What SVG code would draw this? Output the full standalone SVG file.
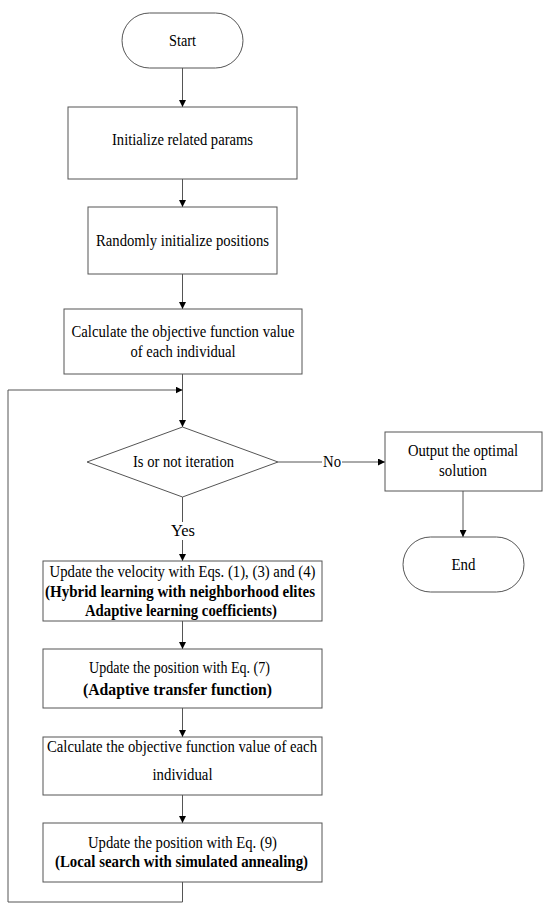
<svg xmlns="http://www.w3.org/2000/svg" width="550" height="910" viewBox="0 0 550 910" font-family="'Liberation Serif', 'Times New Roman', serif">
<defs>
<marker id="arr" viewBox="0 0 10 10" refX="10" refY="5" markerWidth="7" markerHeight="7" markerUnits="userSpaceOnUse" orient="auto">
<path d="M0,0 L10,5 L0,10 z" fill="#000"/>
</marker>
<style>
.n{fill:#fff;stroke:#555;stroke-width:1}
.t{font-family:'Liberation Serif','Times New Roman',serif;font-size:16.5px;fill:#000;text-anchor:middle}
.b{font-weight:bold}
.c{fill:none;stroke:#555;stroke-width:1}
</style>
</defs>
<rect width="550" height="910" fill="#fff"/>
<g id="connectors">
<line class="c" x1="182.5" y1="68" x2="182.5" y2="107" marker-end="url(#arr)"/>
<line class="c" x1="182.5" y1="179" x2="182.5" y2="207" marker-end="url(#arr)"/>
<line class="c" x1="182.5" y1="274" x2="182.5" y2="309" marker-end="url(#arr)"/>
<line class="c" x1="182.5" y1="374" x2="182.5" y2="427" marker-end="url(#arr)"/>
<line class="c" x1="182.5" y1="497" x2="182.5" y2="522"/>
<line class="c" x1="182.5" y1="540" x2="182.5" y2="561" marker-end="url(#arr)"/>
<line class="c" x1="278" y1="462" x2="322" y2="462"/>
<line class="c" x1="342" y1="462" x2="385" y2="462" marker-end="url(#arr)"/>
<line class="c" x1="463" y1="491" x2="463" y2="537" marker-end="url(#arr)"/>
<line class="c" x1="182.5" y1="621" x2="182.5" y2="649" marker-end="url(#arr)"/>
<line class="c" x1="182.5" y1="708" x2="182.5" y2="737" marker-end="url(#arr)"/>
<line class="c" x1="182.5" y1="795" x2="182.5" y2="823" marker-end="url(#arr)"/>
<polyline class="c" points="182.5,882 182.5,902 8,902 8,390 182.5,390" marker-end="url(#arr)"/>
<text class="t" x="332" y="467" textLength="18" lengthAdjust="spacingAndGlyphs">No</text>
<text class="t" x="183" y="536" textLength="24" lengthAdjust="spacingAndGlyphs">Yes</text>
</g>
<g id="start">
<rect class="n" x="122" y="13" width="121" height="55" rx="27.5" ry="27.5"/>
<text class="t" x="182.5" y="46" textLength="27" lengthAdjust="spacingAndGlyphs">Start</text>
</g>
<g id="init-params">
<rect class="n" x="68" y="107" width="229" height="72"/>
<text class="t" x="182.5" y="145" textLength="141" lengthAdjust="spacingAndGlyphs">Initialize related params</text>
</g>
<g id="init-positions">
<rect class="n" x="88" y="207" width="189" height="67"/>
<text class="t" x="182.5" y="246" textLength="173" lengthAdjust="spacingAndGlyphs">Randomly initialize positions</text>
</g>
<g id="calc-fitness-1">
<rect class="n" x="64" y="309" width="238" height="65"/>
<text class="t" x="183" y="337" textLength="223" lengthAdjust="spacingAndGlyphs">Calculate the objective function value</text>
<text class="t" x="183" y="357" textLength="105" lengthAdjust="spacingAndGlyphs">of each individual</text>
</g>
<g id="decision">
<polygon class="n" points="182.5,427 278,462 182.5,497 87,462"/>
<text class="t" x="183.5" y="467" textLength="101" lengthAdjust="spacingAndGlyphs">Is or not iteration</text>
</g>
<g id="output">
<rect class="n" x="385" y="432" width="157" height="59"/>
<text class="t" x="463" y="456" textLength="110" lengthAdjust="spacingAndGlyphs">Output the optimal</text>
<text class="t" x="463" y="476" textLength="48" lengthAdjust="spacingAndGlyphs">solution</text>
</g>
<g id="end">
<rect class="n" x="403" y="537" width="121" height="55" rx="27.5" ry="27.5"/>
<text class="t" x="463.5" y="570" textLength="24" lengthAdjust="spacingAndGlyphs">End</text>
</g>
<g id="update-velocity">
<rect class="n" x="43" y="561" width="279" height="60"/>
<text class="t" x="182.5" y="577" textLength="266" lengthAdjust="spacingAndGlyphs">Update the velocity with Eqs. (1), (3) and (4)</text>
<text class="t b" x="180" y="597" textLength="270" lengthAdjust="spacingAndGlyphs">(Hybrid learning with neighborhood elites</text>
<text class="t b" x="181" y="616" textLength="192" lengthAdjust="spacingAndGlyphs">Adaptive learning coefficients)</text>
</g>
<g id="update-position-7">
<rect class="n" x="43" y="649" width="279" height="59"/>
<text class="t" x="179.5" y="673" textLength="181" lengthAdjust="spacingAndGlyphs">Update the position with Eq. (7)</text>
<text class="t b" x="177.5" y="695" textLength="189" lengthAdjust="spacingAndGlyphs">(Adaptive transfer function)</text>
</g>
<g id="calc-fitness-2">
<rect class="n" x="43" y="737" width="279" height="58"/>
<text class="t" x="182" y="752" textLength="270" lengthAdjust="spacingAndGlyphs">Calculate the objective function value of each</text>
<text class="t" x="182.5" y="780" textLength="60" lengthAdjust="spacingAndGlyphs">individual</text>
</g>
<g id="update-position-9">
<rect class="n" x="43" y="823" width="279" height="59"/>
<text class="t" x="182.5" y="848" textLength="189" lengthAdjust="spacingAndGlyphs">Update the position with Eq. (9)</text>
<text class="t b" x="181.5" y="867" textLength="253" lengthAdjust="spacingAndGlyphs">(Local search with simulated annealing)</text>
</g>
</svg>
